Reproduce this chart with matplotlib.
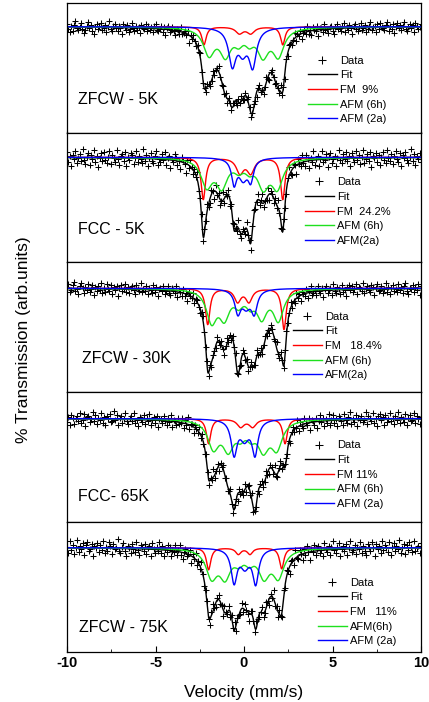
import numpy as np
import matplotlib.pyplot as plt
from matplotlib.ticker import MultipleLocator

plt.rcParams['font.family'] = ['Liberation Sans', 'DejaVu Sans']
plt.rcParams['axes.unicode_minus'] = False

#%% data (depths in arbitrary units, velocities in mm/s)
samples = ["ZFCW - 5K", "FCC - 5K", "ZFCW - 30K", "FCC- 65K", "ZFCW - 75K"]
fm_labels = ["FM  9%", "FM  24.2%", "FM   18.4%", "FM 11%", "FM   11%"]
afm6h_labels = ["AFM (6h)", "AFM (6h)", "AFM (6h)", "AFM (6h)", "AFM(6h)"]
afm2a_labels = ["AFM (2a)", "AFM(2a)", "AFM(2a)", "AFM (2a)", "AFM (2a)"]

# FM sub-spectrum: line positions, depths, half widths
fm_pos = [[-2.26, -0.26, 0.38, 2.19], [-2.30, -0.23, 0.38, 2.19],
          [-2.05, -0.36, 0.28, 2.26], [-2.00, -0.19, 0.49, 2.32],
          [-2.00, -0.32, 0.34, 2.13]]
fm_depth = [[18, 6.5, 6.5, 18], [42, 15, 15, 42], [36, 13, 13, 41],
            [25, 8, 8, 25], [22, 6.3, 6.3, 21]]
fm_hw = [[0.15, 0.25, 0.25, 0.15], [0.15, 0.25, 0.25, 0.15],
         [0.15, 0.22, 0.22, 0.15], [0.15, 0.24, 0.24, 0.15],
         [0.15, 0.18, 0.18, 0.15]]

# AFM (6h) sub-spectrum
afm6h_pos = [[-1.98, -1.05, -0.30, 0.30, 1.07, 1.94],
             [-2.11, -1.26, -0.30, 0.30, 1.09, 1.88],
             [-1.83, -1.11, -0.30, 0.35, 1.00, 1.94],
             [-1.73, -0.89, -0.20, 0.40, 1.09, 1.85],
             [-1.83, -1.07, -0.30, 0.30, 1.13, 1.94]]
afm6h_depth = [[26, 26, 11, 11, 26, 27], [27, 27, 9, 9, 27, 28],
               [31, 26, 12, 12, 26, 30], [27, 27, 12, 12, 27, 27],
               [27, 26, 10, 10, 26, 27]]
afm6h_hw = [[0.38, 0.38, 0.30, 0.30, 0.38, 0.38],
            [0.38, 0.38, 0.30, 0.30, 0.38, 0.38],
            [0.35, 0.35, 0.30, 0.30, 0.35, 0.35],
            [0.38, 0.38, 0.32, 0.32, 0.38, 0.38],
            [0.38, 0.38, 0.30, 0.30, 0.38, 0.38]]

# AFM (2a) sub-spectrum
afm2a_pos = [[-0.66, -0.08, 0.49], [-0.56, -0.05, 0.38], [-0.35, 0.12, 0.58],
             [-0.56, 0.03, 0.62], [-0.56, 0.05, 0.66]]
afm2a_depth = [[36, 21, 37], [24, 20, 20], [22, 16, 22], [34, 18, 34],
               [33, 17, 34]]
afm2a_hw = [[0.25, 0.30, 0.25], [0.17, 0.30, 0.18], [0.20, 0.30, 0.20],
            [0.20, 0.30, 0.20], [0.20, 0.30, 0.20]]

# weight of each sub-spectrum in the total fit (FM, 6h, 2a)
fit_weights = [[1.45, 1.65, 0.98], [1.2, 1.09, 1.6], [1.1, 1.6, 1.25],
               [1.05, 1.5, 1.25], [1.05, 1.65, 1.25]]

# scatter of the data points around the fit
resid_txt = [
"3 -2 -5 1 -4 2 6 -1 -3 0 4 -2 -6 -3 1 5 -1 2 -4 -7 0 3 -2 1 4 -3 -1 2 -5 0 6 -2 -4 1 3 -1 -3 2 0 -6 4 1 -2 3 -4 -1 5 0 -3 2 -2 1 -5 3 0 -1 4 -3 2 -2 1 -4 3 5 -1 -2 0 3 -3 2 -6 1 4 -2 0 3 -1 -4 2 1 -3 5 -2 0 2 -1 3 -8 1 -2 4 0 -3 2 -1 5 -3 0 1 -4 3 2 -2 -1 4 -3 0 2 6 -2 -4 1 -1 3 -5 2 0 -3 4 1 -2 -4 3 0 6 -1 -3 2 -2 5 1 -4 0 3 -2 -5 1 4 -1 2 -3 0 5 -2 -6 1 3 -1 -4 2 0 -3 6 -2 1 -5 3 "
"-2 4 1 -3 0 5 -4 2 -1 3 -5 0 2 -2 6 -3 1 -4 3 0 -1 4 -6 2 1 -3 5 -1 0 -4 2 3 -2 -5 1 4 -1 0 -3 2 5 -4 1 -2 3 0 -6 2 4 -1 -3 1 5 -2 0 3 -4 -1 2 6 -3 0 1 -5 3 -2 4 0 -1 -3 2 5 -4 1 -2 3 -6 0 4 -1 2 -3 1 5 -2 -4 0 3 -1 2 -5 4 1 -2 0 3",
"6 -4 2 -8 3 -1 7 -5 0 4 -3 9 -2 -6 1 5 -7 3 -1 8 -4 2 -9 0 5 -3 6 -2 -5 1 7 -6 3 0 -4 8 -1 -7 2 4 -3 6 -8 1 -2 5 3 -6 0 7 -4 2 -1 -5 9 -3 4 -7 1 6 -2 -4 3 8 -6 0 -3 5 -1 7 -5 2 4 -8 1 -2 6 3 -4 0 -7 5 2 -1 -9 4 -3 6 1 -5 3 -2 8 -4 0 2 -6 5 -1 7 -3 -5 4 1 -8 6 -2 3 -6 0 9 -4 2 -1 5 -7 3 -3 6 1 -5 8 -2 -4 4 0 -6 7 -1 2 -8 3 5 -3 -1 6 -5 2 9 -4 0 -2 7 -6 3 1 -5 4 -3 8 -1 -7 2 5 -4 "
"-5 3 8 -2 -6 4 1 -9 5 0 -3 7 -1 -4 6 2 -7 3 -2 9 -5 1 4 -6 0 8 -3 -1 5 -8 2 6 -4 0 3 -7 1 9 -2 -5 4 -1 6 -3 2 -8 5 0 -4 7 -2 3 -6 1 8 -5 -1 4 -3 6 -9 2 0 5 -4 3 -7 1 6 -2 -5 8 0 -3 4 -6 2 7 -1 -4 5 -8 3 0 6 -2 -5 1 9 -3 4 -7 2 -1 5 -4",
"2 5 -3 -1 4 7 -2 0 -5 3 6 1 -4 2 -1 5 -3 0 4 -6 2 -2 3 -1 6 -4 1 -3 5 0 -2 4 -5 2 -1 3 -7 1 4 -2 0 5 -3 2 -4 1 3 -1 -5 4 0 -2 6 -3 1 -1 4 -4 2 0 -3 5 -2 3 -6 1 2 -1 4 -3 0 5 -2 -4 3 1 -1 6 -5 2 0 -3 4 -2 1 -6 3 0 -1 5 -4 2 3 -2 -5 1 4 -1 0 6 -3 2 -4 3 1 -2 5 -1 -3 4 0 -5 2 6 -2 1 -4 3 -1 5 -3 0 2 -6 4 1 -2 3 -5 0 4 -1 2 -3 6 -2 -1 5 -4 1 3 -2 0 -5 4 2 -3 1 6 -1 -4 3 0 -2 5 "
"4 -2 0 6 -4 1 -3 5 -1 2 -6 3 0 -2 4 -5 1 6 -3 -1 2 -4 5 0 -2 3 -6 1 4 -3 0 2 -5 6 -1 -3 3 1 -4 5 -2 0 -6 2 4 -1 3 -3 0 5 -5 2 1 -2 6 -4 0 3 -1 -3 4 2 -6 1 5 -2 -1 3 -4 0 6 -3 2 -5 1 4 -2 0 -3 5 -1 2 -4 3 6 -2 -5 1 0 4 -3 2 -1 5 -6 3",
"-3 2 -6 4 1 -5 0 3 -2 6 -4 -1 5 -7 2 3 -3 0 7 -2 4 -5 1 -1 6 -4 2 -6 3 0 5 -3 -2 8 -1 4 -6 1 3 -4 0 6 -2 -5 2 4 -1 7 -3 0 -6 3 1 -2 5 -4 2 -1 6 -5 0 3 -3 4 -7 1 2 -2 5 0 -4 3 -1 6 -6 2 1 -3 4 -2 0 5 -5 3 -1 7 -4 1 2 -6 3 0 -2 5 -3 4 -1 -5 6 2 -4 1 -2 8 -3 0 4 -6 2 -1 5 -3 3 -5 0 6 -2 -4 3 1 -7 4 -1 2 -3 6 -5 0 3 -2 7 -4 1 -1 5 -6 2 4 -3 0 6 -2 -5 3 1 -4 8 -1 -3 2 5 -6 0 4 "
"5 -3 1 -6 2 4 -2 0 7 -5 3 -1 -4 6 0 -2 5 -7 2 1 -3 4 -6 0 6 -1 3 -5 2 -2 7 -4 0 5 -3 1 -6 4 2 -1 -5 6 0 -3 3 8 -4 1 -2 5 -6 2 0 4 -3 -1 7 -5 3 1 -2 6 -4 0 -7 3 5 -1 2 -6 4 -3 0 6 -2 1 -5 3 -1 7 -4 2 0 -3 5 -6 1 4 -2 -1 6 -4 3 0 -5 2",
"1 -5 7 -2 3 -6 0 8 -4 2 -1 5 -7 3 6 -3 -1 4 -8 2 0 5 -4 3 -2 7 -5 1 -3 6 2 -6 4 -1 0 9 -3 -5 2 6 -2 -7 3 1 -4 5 0 -3 7 -1 -6 4 2 -2 5 -5 1 3 -7 6 0 -4 2 -1 8 -3 4 -6 1 -2 5 3 -5 0 -1 6 -4 2 7 -3 -6 1 4 -2 0 5 -7 3 -1 6 -4 2 -3 8 0 -5 1 4 -2 -6 3 7 -1 -4 2 5 -3 0 -7 6 1 -2 4 -5 3 -1 8 -6 2 0 -3 5 -4 6 1 -2 -8 3 4 -1 -5 7 2 -3 0 6 -4 -2 5 1 -6 3 -1 9 -3 2 -5 4 0 -7 6 "
"-4 6 0 -7 3 2 -5 8 -1 -3 5 1 -6 4 -2 7 0 -8 3 -1 6 -4 2 5 -3 0 -6 7 1 -2 4 -5 3 9 -1 -4 2 6 -7 0 3 -2 5 -6 1 8 -3 -1 4 -5 2 0 7 -4 3 -2 -6 5 1 -3 6 0 -8 4 -1 2 -5 7 -2 3 0 -4 6 -7 1 5 -3 2 -1 8 -5 0 4 -6 3 -2 6 1 -4 7 -3 0 2 -5 5",
]

#%% layout (pixels of the 429x702 figure)
W, H = 429, 702
ax_left, ax_right, ax_top, ax_bottom = 67, 421, 2.7, 651.7
base_off = [24, 24.8, 26, 26.5, 25.8]          # baseline below panel top
leg_x = [308, 305, 293, 305, 318]              # legend handle start
leg_y = [56.3, 48.2, 52.7, 51.8, 59.2]         # first legend row below top
lab_x = [78, 78, 81.5, 78, 79]
lab_y = [97, 97, 96, 104, 106]


def lorentz_sum(v, pos, depth, hw):
    out = np.zeros_like(v)
    for c, d, w in zip(pos, depth, hw):
        out += d * w**2 / ((v - c)**2 + w**2)
    return -out


v = np.linspace(-10, 10, 1201)
panel_h = (ax_bottom - ax_top) / 5

fig, axes = plt.subplots(5, 1, figsize=(W / 100, H / 100), dpi=100, sharex=True)
fig.subplots_adjust(left=ax_left / W, right=ax_right / W,
                    top=1 - ax_top / H, bottom=1 - ax_bottom / H, hspace=0)

for i, ax in enumerate(axes):
    fm = lorentz_sum(v, fm_pos[i], fm_depth[i], fm_hw[i])
    a6 = lorentz_sum(v, afm6h_pos[i], afm6h_depth[i], afm6h_hw[i])
    a2 = lorentz_sum(v, afm2a_pos[i], afm2a_depth[i], afm2a_hw[i])
    wf, w6, w2 = fit_weights[i]
    fit = wf * fm + w6 * a6 + w2 * a2

    res = np.array([float(s) for s in resid_txt[i].split()])
    vd = np.linspace(-10, 10, res.size)
    yd = np.interp(vd, v, fit) + res

    ax.plot(vd, yd, ls="none", marker="+", ms=3.8, mew=0.75, c="k", label="Data")
    ax.plot(v, fit, c="k", lw=1.0, label="Fit")
    ax.plot(v, fm, c="#ff0000", lw=1.0, label=fm_labels[i])
    ax.plot(v, a6, c="#1ee01e", lw=1.0, label=afm6h_labels[i])
    ax.plot(v, a2, c="#0000ff", lw=1.0, label=afm2a_labels[i])

    ax.set_xlim(-10, 10)
    ax.set_ylim(-(panel_h - base_off[i]), base_off[i])
    ax.set_yticks([])
    for sp in ax.spines.values():
        sp.set_linewidth(0.9)

    ax.text((lab_x[i] - ax_left) / (ax_right - ax_left), 1 - lab_y[i] / panel_h,
            samples[i], transform=ax.transAxes, fontsize=11.5, va="center")

    ax.legend(loc="upper left",
              bbox_to_anchor=((leg_x[i] - ax_left) / (ax_right - ax_left),
                              1 - (leg_y[i] - 3.5) / panel_h),
              frameon=False, fontsize=8, handlelength=2.6, handletextpad=0.25,
              labelspacing=0.42, borderpad=0, borderaxespad=0, markerscale=1.7)

    if i < 4:
        ax.tick_params(axis="x", bottom=False, labelbottom=False)

ax = axes[-1]
ax.xaxis.set_major_locator(MultipleLocator(5))
ax.xaxis.set_minor_locator(MultipleLocator(2.5))
ax.tick_params(axis="x", which="major", direction="in", length=4, width=0.8, pad=3)
ax.tick_params(axis="x", which="minor", direction="in", length=2, width=0.6)
for lab in ax.get_xticklabels():
    lab.set_fontweight("bold")
    lab.set_fontsize(10.5)

fig.text(244 / W, 1 - 692 / H, "Velocity (mm/s)", ha="center", va="center",
         fontsize=12.5)
fig.text(24 / W, 1 - 340 / H, "% Transmission (arb.units)", rotation=90,
         ha="center", va="center", fontsize=12.5)

fig.savefig("out.png", dpi=100)
